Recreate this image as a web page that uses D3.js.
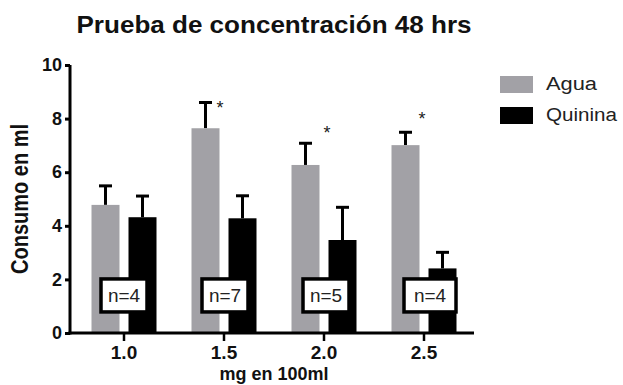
<!DOCTYPE html>
<html>
<head>
<meta charset="utf-8">
<script src="https://cdn.jsdelivr.net/npm/d3@7"></script>
<style>
  body { margin: 0; background: #fff; }
  svg { display: block; font-family: "Liberation Sans", Arial, sans-serif; }
</style>
</head>
<body>
<script>
// chart values
var doses = ["1.0", "1.5", "2.0", "2.5"];
var agua = [4.78, 7.64, 6.27, 7.01];
var aguaErr = [0.71, 0.96, 0.81, 0.48];
var quinina = [4.32, 4.28, 3.47, 2.41];
var quininaErr = [0.79, 0.84, 1.22, 0.60];
var nLabels = ["n=4", "n=7", "n=5", "n=4"];
var stars = ["", "*", "*", "*"];
var yTicks = [0, 2, 4, 6, 8, 10];
var seriesNames = ["Agua", "Quinina"];
var seriesColors = ["#a2a1a6", "#000000"];

var W = 623, H = 385;
var svg = d3.select("body").append("svg")
  .attr("width", W).attr("height", H);

var x = d3.scaleBand().domain(doses).range([74, 474]);
var y = d3.scaleLinear().domain([0, 10]).range([333, 65]);
var barW = 28, off = 18.5;

var groups = doses.map(function(d, i) {
  return [
    {dose: d, v: agua[i], e: aguaErr[i], s: 0},
    {dose: d, v: quinina[i], e: quininaErr[i], s: 1}
  ];
});
var flat = [].concat.apply([], groups);

function cx(d) {
  return x(d.dose) + x.bandwidth() / 2 + (d.s === 0 ? -off : off);
}

// error bars (upper only)
var eb = svg.append("g").attr("stroke", "#000").attr("stroke-width", 3);
eb.selectAll("line.stem").data(flat).enter().append("line")
  .attr("x1", cx).attr("x2", cx)
  .attr("y1", function(d) { return y(d.v); })
  .attr("y2", function(d) { return y(d.v + d.e); });
eb.selectAll("line.cap").data(flat).enter().append("line")
  .attr("x1", function(d) { return cx(d) - 6.5; })
  .attr("x2", function(d) { return cx(d) + 6.5; })
  .attr("y1", function(d) { return y(d.v + d.e); })
  .attr("y2", function(d) { return y(d.v + d.e); });

// bars
svg.append("g").selectAll("rect").data(flat).enter().append("rect")
  .attr("x", function(d) { return cx(d) - barW / 2; })
  .attr("y", function(d) { return y(d.v); })
  .attr("width", barW)
  .attr("height", function(d) { return y(0) - y(d.v); })
  .attr("fill", function(d) { return seriesColors[d.s]; });

// asterisks
var starDx = [0, -4, 3, -2];
var starY = [0, 8.55, 7.6, 8.15];
svg.append("g").selectAll("text").data(doses).enter().append("text")
  .attr("x", function(d, i) { return x(d) + x.bandwidth() / 2 + starDx[i]; })
  .attr("y", function(d, i) { return y(starY[i]) + 10; })
  .attr("text-anchor", "middle")
  .attr("font-size", 18).attr("fill", "#222")
  .text(function(d, i) { return stars[i]; });

// n boxes
var boxDx = [0, 1, 2, 6];
var nb = svg.append("g").selectAll("g").data(doses).enter().append("g")
  .attr("transform", function(d, i) {
    return "translate(" + (x(d) + x.bandwidth() / 2 + boxDx[i]) + "," + y(1.42) + ")";
  });
nb.append("rect")
  .attr("x", function(d, i) { return i === 3 ? -26 : -23; })
  .attr("y", -16)
  .attr("width", function(d, i) { return i === 3 ? 52 : 46; })
  .attr("height", 33)
  .attr("fill", "#fff").attr("stroke", "#000").attr("stroke-width", 3.5);
nb.append("text")
  .attr("text-anchor", "middle").attr("y", 7)
  .attr("font-size", 19).attr("fill", "#222")
  .text(function(d, i) { return nLabels[i]; });

// y axis
var yAxis = svg.append("g").attr("transform", "translate(70,0)")
  .call(d3.axisLeft(y).tickValues(yTicks).tickSize(5).tickPadding(3).tickFormat(d3.format("d")));
yAxis.select(".domain").attr("stroke-width", 3).attr("d", "M0," + y(10) + "V" + (y(0) + 1.5));
yAxis.selectAll(".tick line").attr("stroke-width", 3);
yAxis.selectAll(".tick text").attr("font-size", 18).attr("font-weight", "bold")
  .attr("font-family", "Liberation Sans, Arial, sans-serif").attr("fill", "#111");

// x axis
var xAxis = svg.append("g").attr("transform", "translate(0," + y(0) + ")")
  .call(d3.axisBottom(x).tickSize(8).tickPadding(5));
xAxis.select(".domain").attr("stroke-width", 3).attr("d", "M68.5,0H474");
xAxis.selectAll(".tick line").attr("stroke-width", 2.5);
xAxis.selectAll(".tick text").attr("font-size", 19).attr("font-weight", "bold")
  .attr("font-family", "Liberation Sans, Arial, sans-serif").attr("fill", "#111");

// titles
svg.append("text").attr("x", 274).attr("y", 33)
  .attr("text-anchor", "middle").attr("font-size", 24).attr("font-weight", "bold")
  .attr("textLength", 395).attr("lengthAdjust", "spacingAndGlyphs")
  .attr("fill", "#111").text("Prueba de concentración 48 hrs");

svg.append("text").attr("x", 274).attr("y", 380)
  .attr("text-anchor", "middle").attr("font-size", 18).attr("font-weight", "bold")
  .attr("fill", "#111").text("mg en 100ml");

svg.append("text")
  .attr("transform", "translate(28,199) scale(1.15,1) rotate(-90)")
  .attr("text-anchor", "middle").attr("font-size", 20).attr("font-weight", "bold")
  .attr("fill", "#111").text("Consumo en ml");

// legend
var lg = svg.append("g").selectAll("g").data(seriesNames).enter().append("g")
  .attr("transform", function(d, i) { return "translate(500," + (76 + i * 31) + ")"; });
lg.append("rect").attr("width", 33).attr("height", 17)
  .attr("fill", function(d, i) { return seriesColors[i]; });
lg.append("text").attr("x", 46).attr("y", 14)
  .attr("font-size", 18).attr("fill", "#222")
  .attr("textLength", function(d, i) { return i === 0 ? 51 : 71; })
  .attr("lengthAdjust", "spacingAndGlyphs")
  .text(function(d) { return d; });
</script>
</body>
</html>
